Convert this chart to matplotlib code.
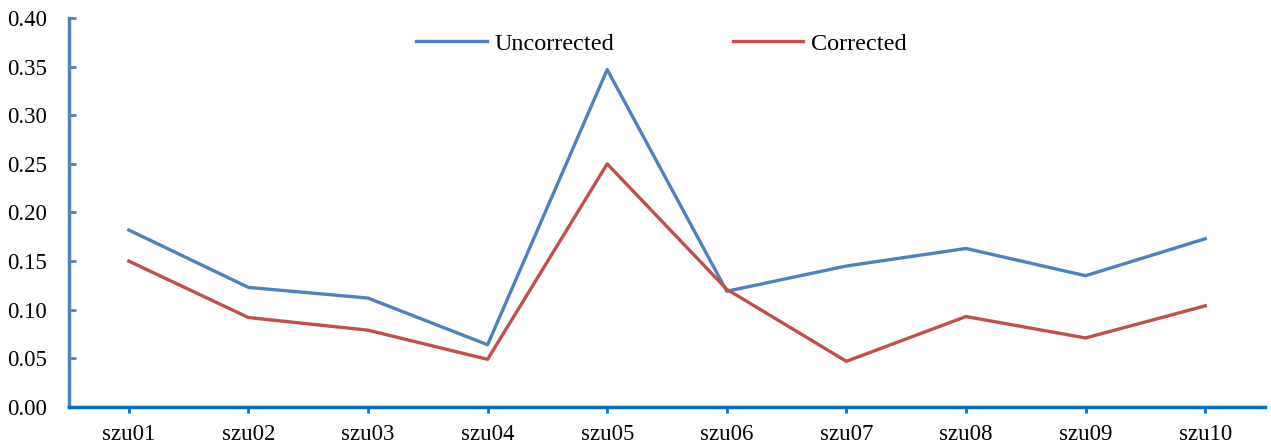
import matplotlib
matplotlib.use("Agg")
import matplotlib.pyplot as plt

categories = ["szu01", "szu02", "szu03", "szu04", "szu05", "szu06", "szu07", "szu08", "szu09", "szu10"]
uncorrected = [0.182, 0.123, 0.112, 0.064, 0.347, 0.119, 0.145, 0.163, 0.135, 0.173]
corrected = [0.150, 0.092, 0.079, 0.049, 0.250, 0.121, 0.047, 0.093, 0.071, 0.104]
yticks = [0.00, 0.05, 0.10, 0.15, 0.20, 0.25, 0.30, 0.35, 0.40]

plt.rcParams['font.family'] = ['Liberation Serif', 'DejaVu Serif']

fig = plt.figure(figsize=(12.71, 4.44), dpi=100)
ax = fig.add_axes([69/1271, 1 - 407/444, (1265-69)/1271, (407-18)/444])

x = list(range(len(categories)))
ax.plot(x, uncorrected, color="#4F81BD", lw=2.4, label="Uncorrected")
ax.plot(x, corrected, color="#C0504D", lw=2.4, label="Corrected")

ax.set_xlim(-0.5, len(categories) - 0.5)
ax.set_ylim(0, 0.40)
ax.set_yticks(yticks)
ax.set_yticklabels([f"{v:.2f}" for v in yticks], fontsize=16.5)
ax.set_xticks(x)
ax.set_xticklabels(categories, fontsize=16.5)

for s in ["top", "right"]:
    ax.spines[s].set_visible(False)
ax.spines["left"].set_color("#4F81BD")
ax.spines["left"].set_linewidth(2.5)
ax.spines["bottom"].set_color("#0070C0")
ax.spines["bottom"].set_linewidth(2.5)
ax.tick_params(axis="y", direction="in", length=5, width=2, color="#4F81BD", pad=16)
ax.tick_params(axis="x", direction="out", length=4, width=2, color="#0070C0", pad=8)

leg = ax.legend(loc="upper center", bbox_to_anchor=(0.4953, 1.018), ncol=2, frameon=False,
                fontsize=17.5, handlelength=2.9, handletextpad=0.3, columnspacing=4.9)

fig.savefig("out.png", dpi=100)
